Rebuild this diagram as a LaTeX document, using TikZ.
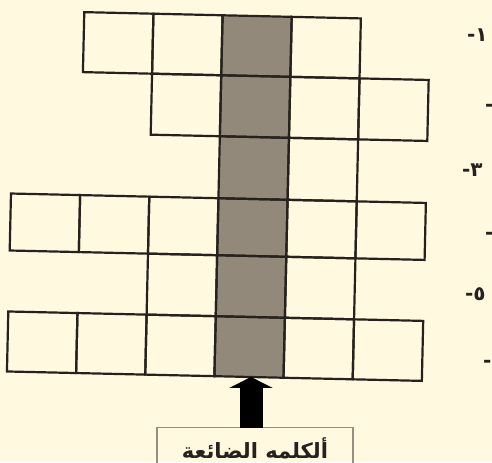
\documentclass[tikz,border=0pt]{standalone}
\usepackage{fontspec}
\usetikzlibrary{arrows.meta}
\newfontfamily\arabicfont[Script=Arabic]{DejaVu Sans}
\TeXXeTstate=1
\definecolor{paper}{RGB}{255,249,224}
\definecolor{shadecol}{RGB}{146,137,122}
\definecolor{ink}{RGB}{38,33,28}
\definecolor{boxgray}{RGB}{150,142,130}
\tikzset{
  cellline/.style={draw=ink, line width=1.1pt, line join=miter},
  rownum/.style={anchor=base east, inner sep=0pt, text=ink,
    font=\arabicfont\fontsize{10}{11}\selectfont\bfseries},
  labelbox/.style={draw=boxgray, line width=0.6pt, minimum width=98pt,
    minimum height=21pt, inner sep=0pt, anchor=north, text=ink,
    font=\arabicfont\fontsize{10.5}{12}\selectfont\bfseries},
  bigarrow/.style={draw=black, line width=11.5pt,
    -{Triangle[width=21.5pt,length=5.5pt]}}
}
\newcommand\xe[1]{{11+69.17*(#1)}}
\newcommand\gridrow[4]{%
  \foreach \c in {#1,...,#2}{%
    \draw[cellline] (\xe{\c},#3) rectangle (\xe{\c+1},#4);}}
\begin{document}
\begin{tikzpicture}[x=0.5pt,y=-0.5pt]
  \fill[paper] (0,0) rectangle (492,462);
  \useasboundingbox (0,0) rectangle (492,462);
  \clip (0,0) rectangle (492,462);
  \begin{scope}[rotate around={-1.3:(253,195)}]
    \fill[shadecol] (\xe{3},16) rectangle (\xe{4},377);
    \gridrow{1}{4}{16}{76}
    \gridrow{2}{5}{76}{137}
    \gridrow{3}{4}{137}{199}
    \gridrow{0}{5}{199}{256}
    \gridrow{2}{4}{256}{317}
    \gridrow{0}{5}{317}{377}
    \coordinate (tip) at (253,377);
  \end{scope}
  \node[labelbox] (lbl) at (255,427) {\beginR ألكلمه الضائعة\endR};
  \coordinate (tail) at (251,428);
  \draw[bigarrow] (tail) -- (tail |- tip);
  \node[rownum] (n1) at (488,41) {\beginR ١-\endR};
  \node[rownum] (n2) at (506,111) {\beginR ٢-\endR};
  \node[rownum] (n3) at (483,176) {\beginR ٣-\endR};
  \node[rownum] (n4) at (506,239) {\beginR ٤-\endR};
  \node[rownum] (n5) at (486,300) {\beginR ٥-\endR};
  \node[rownum] (n6) at (504,367) {\beginR ٦-\endR};
\end{tikzpicture}
\end{document}
